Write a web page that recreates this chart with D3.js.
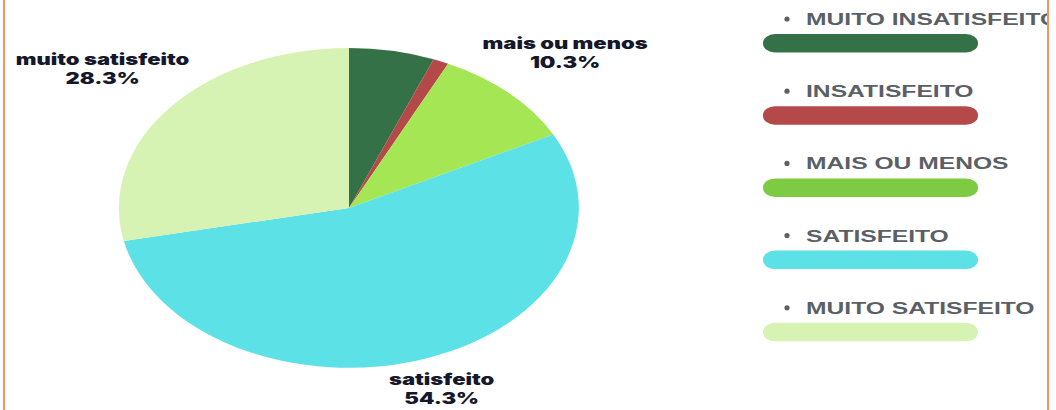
<!DOCTYPE html>
<html lang="en">
<head>
    <meta charset="utf-8">
    <title>Satisfação</title>
    <script src="https://cdn.jsdelivr.net/npm/d3@7"></script>
    <style>
        body { margin: 0; background: #fff; }
    </style>
</head>
<body>
<script type="text/javascript">
    // data
    var categories = ["muito insatisfeito", "insatisfeito", "mais ou menos", "satisfeito", "muito satisfeito"];
    var values = [6.0, 1.1, 10.3, 54.3, 28.3];
    var legendLabels = ["MUITO INSATISFEITO", "INSATISFEITO", "MAIS OU MENOS", "SATISFEITO", "MUITO SATISFEITO"];
    var showLabel = [false, false, true, true, true];

    var pieColors = ["#347146", "#b54848", "#a5e654", "#5ce1e6", "#d6f3b4"];
    var legendColors = ["#347146", "#b54848", "#7ccb42", "#5ce1e6", "#d6f3b4"];

    var width = 1056, height = 410;
    var cx = 349, cy = 208, rx = 230, ry = 160;
    var stretch = 1.42; // the picture is stretched horizontally
    var labelRadius = [1.3, 1.3, 1.35, 1.2, 1.38];

    var svg = d3.select("body")
            .append("svg")
            .attr("width", width)
            .attr("height", height);

    // orange frame edges
    svg.append("line").attr("x1", 4).attr("x2", 4).attr("y1", 0).attr("y2", height)
            .attr("stroke", "#f07a3a").attr("stroke-width", 1.6);
    svg.append("line").attr("x1", 1048).attr("x2", 1048).attr("y1", 0).attr("y2", height)
            .attr("stroke", "#f07a3a").attr("stroke-width", 1.6);

    var pie = d3.pie().sort(null).value(function(d) { return d; });
    var arcs = pie(values);
    var arc = d3.arc().innerRadius(0).outerRadius(1);

    var g = svg.append("g")
            .attr("transform", "translate(" + cx + "," + cy + ") scale(" + rx + "," + ry + ")");

    g.selectAll("path")
            .data(arcs)
            .enter()
            .append("path")
            .attr("d", arc)
            .attr("fill", function(d, i) { return pieColors[i]; });

    // outside labels
    var labels = svg.selectAll("g.lbl")
            .data(arcs.filter(function(d, i) { return showLabel[i]; }))
            .enter()
            .append("g")
            .attr("class", "lbl")
            .attr("transform", function(d) {
                var i = d.index;
                var a = (d.startAngle + d.endAngle) / 2;
                var x = cx + Math.sin(a) * rx * labelRadius[i];
                var y = cy - Math.cos(a) * ry * labelRadius[i];
                return "translate(" + x + "," + y + ") scale(" + stretch + ",1)";
            });

    labels.append("text")
            .attr("y", -4)
            .attr("text-anchor", "middle")
            .attr("font-family", "Inter, sans-serif")
            .attr("font-weight", 900)
            .attr("font-size", "15.5px")
            .attr("fill", "#15182a")
            .text(function(d) { return categories[d.index]; });

    labels.append("text")
            .attr("y", 15.5)
            .attr("text-anchor", "middle")
            .attr("font-family", "Inter, sans-serif")
            .attr("font-weight", 900)
            .attr("font-size", "15.5px")
            .attr("fill", "#15182a")
            .text(function(d) { return d3.format(".1f")(d.data) + "%"; });

    // legend
    svg.append("clipPath").attr("id", "clip")
            .append("rect").attr("x", 0).attr("y", 0).attr("width", 1047).attr("height", height);

    var legend = svg.append("g").attr("clip-path", "url(#clip)")
            .selectAll("g")
            .data(legendLabels)
            .enter()
            .append("g")
            .attr("transform", function(d, i) { return "translate(0," + (25 + i * 72.2) + ")"; });

    legend.append("circle")
            .attr("cx", 787)
            .attr("cy", -6)
            .attr("r", 2.6)
            .attr("fill", "#5b5f66");

    legend.append("text")
            .attr("transform", "translate(806,0) scale(1.45,1)")
            .attr("font-family", "Liberation Sans, Arial, sans-serif")
            .attr("font-weight", "bold")
            .attr("font-size", "17px")
            .attr("fill", "#5b5f66")
            .text(function(d) { return d; });

    legend.append("rect")
            .attr("x", 763)
            .attr("y", 9)
            .attr("width", 215)
            .attr("height", 18.5)
            .attr("rx", 12)
            .attr("ry", 9)
            .attr("fill", function(d, i) { return legendColors[i]; });
</script>
</body>
</html>
